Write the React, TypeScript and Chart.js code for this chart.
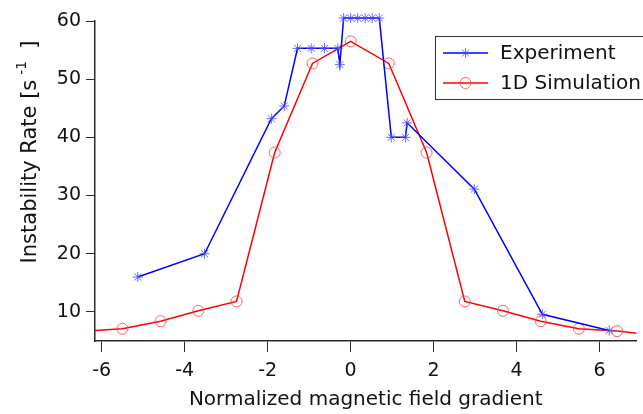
import React, { useEffect, useRef } from 'react';
import { Chart, registerables } from 'chart.js';

Chart.register(...registerables);

// ---- data ----
const seriesNames = ['Experiment', '1D Simulation'];
const expX = [-5.13, -3.52, -1.91, -1.6, -1.28, -0.95, -0.63, -0.31, -0.26, -0.17, 0.0, 0.17, 0.35, 0.52, 0.69, 0.98, 1.32, 1.36, 2.98, 4.62, 6.23];
const expY = [16.0, 20.0, 43.2, 45.4, 55.3, 55.3, 55.3, 55.3, 52.5, 60.5, 60.5, 60.5, 60.5, 60.5, 60.5, 40.0, 40.0, 42.5, 31.1, 9.6, 6.8];
const simX = [-7.33, -6.42, -5.5, -4.58, -3.67, -2.75, -1.83, -0.92, 0, 0.92, 1.83, 2.75, 3.67, 4.58, 5.5, 6.42, 7.33];
const simY = [6.0, 6.7, 7.1, 8.4, 10.2, 11.8, 37.4, 52.7, 56.5, 52.7, 37.4, 11.8, 10.2, 8.4, 7.1, 6.7, 6.0];
const xTicks = [-6, -4, -2, 0, 2, 4, 6];
const yTicks = [10, 20, 30, 40, 50, 60];
const xMin = -6.16;
const xMax = 6.888;
const yMin = 5;
const yMax = 60;
const xTitle = 'Normalized magnetic field gradient';
const yTitleMain = 'Instability Rate [s';
const yTitleSup = '-1';
const yTitleEnd = ']';

const FONT = '"DejaVu Sans", sans-serif';
const AXIS_COLOR = '#2a2a2a';
const TEXT_COLOR = '#111';

const styles = [
  { line: '#0000ff', marker: 'rgba(70,70,255,0.8)', pointStyle: 'star', radius: 5 },
  { line: '#ff0000', marker: 'rgba(255,70,70,0.85)', pointStyle: 'circle', radius: 5.5 },
];

function drawMarker(ctx: CanvasRenderingContext2D, style: string, x: number, y: number, r: number) {
  ctx.beginPath();
  if (style === 'circle') {
    ctx.arc(x, y, r, 0, Math.PI * 2);
  } else {
    for (let k = 0; k < 4; k++) {
      const a = (k * Math.PI) / 4;
      ctx.moveTo(x - r * Math.cos(a), y - r * Math.sin(a));
      ctx.lineTo(x + r * Math.cos(a), y + r * Math.sin(a));
    }
  }
  ctx.stroke();
}

const legendPlugin = {
  id: 'boxLegend',
  afterDraw(chart: any) {
    const ctx: CanvasRenderingContext2D = chart.ctx;
    ctx.save();
    ctx.fillStyle = '#fff';
    ctx.fillRect(435, 36, 260, 63);
    ctx.strokeStyle = '#333';
    ctx.lineWidth = 1;
    ctx.strokeRect(435.5, 36.5, 260, 63);
    const rowsY = [53, 83];
    chart.data.datasets.forEach((ds: any, i: number) => {
      const y = rowsY[i];
      const st = styles[i];
      ctx.strokeStyle = st.line;
      ctx.lineWidth = 1.5;
      ctx.beginPath();
      ctx.moveTo(443, y);
      ctx.lineTo(488, y);
      ctx.stroke();
      ctx.strokeStyle = st.marker;
      ctx.lineWidth = 1;
      drawMarker(ctx, st.pointStyle, 465.5, y, st.radius);
      ctx.fillStyle = TEXT_COLOR;
      ctx.font = `20px ${FONT}`;
      ctx.textAlign = 'left';
      ctx.textBaseline = 'middle';
      ctx.fillText(ds.label, 500, y + 1);
    });
    ctx.restore();
  },
};

const yTitlePlugin = {
  id: 'yTitle',
  afterDraw(chart: any) {
    const ctx: CanvasRenderingContext2D = chart.ctx;
    ctx.save();
    ctx.translate(31, 152);
    ctx.rotate(-Math.PI / 2);
    ctx.fillStyle = TEXT_COLOR;
    ctx.textAlign = 'left';
    ctx.textBaseline = 'middle';
    const mainFont = `21px ${FONT}`;
    const supFont = `14px ${FONT}`;
    const gap1 = 5;
    const gap2 = 12;
    ctx.font = mainFont;
    const w1 = ctx.measureText(yTitleMain).width;
    const w3 = ctx.measureText(yTitleEnd).width;
    ctx.font = supFont;
    const w2 = ctx.measureText(yTitleSup).width;
    let x = -(w1 + gap1 + w2 + gap2 + w3) / 2;
    ctx.font = mainFont;
    ctx.fillText(yTitleMain, x, 0);
    x += w1 + gap1;
    ctx.font = supFont;
    ctx.fillText(yTitleSup, x, -9);
    x += w2 + gap2;
    ctx.font = mainFont;
    ctx.fillText(yTitleEnd, x, 0);
    ctx.restore();
  },
};

export default function App() {
  const ref = useRef<HTMLCanvasElement | null>(null);

  useEffect(() => {
    if (!ref.current) return;
    const chart = new Chart(ref.current, {
      type: 'line',
      data: {
        datasets: [
          {
            label: seriesNames[0],
            data: expX.map((x, i) => ({ x, y: expY[i] })),
            borderColor: styles[0].line,
            borderWidth: 1.5,
            pointStyle: 'star',
            pointRadius: styles[0].radius,
            pointBorderColor: styles[0].marker,
            pointBackgroundColor: styles[0].marker,
            pointBorderWidth: 1,
            fill: false,
            tension: 0,
            clip: { left: 0, right: 0, top: 20, bottom: 0 },
          },
          {
            label: seriesNames[1],
            data: simX.map((x, i) => ({ x, y: simY[i] })),
            borderColor: styles[1].line,
            borderWidth: 1.5,
            pointStyle: 'circle',
            pointRadius: styles[1].radius,
            pointBorderColor: styles[1].marker,
            pointBackgroundColor: 'rgba(0,0,0,0)',
            pointBorderWidth: 1,
            fill: false,
            tension: 0,
            clip: { left: 0, right: 0, top: 20, bottom: 0 },
          },
        ],
      } as any,
      options: {
        animation: false,
        responsive: false,
        devicePixelRatio: 1,
        layout: { padding: { top: 21, left: 0, right: 0, bottom: 0 } },
        plugins: { legend: { display: false }, tooltip: { enabled: false } },
        scales: {
          x: {
            type: 'linear',
            min: xMin,
            max: xMax,
            afterBuildTicks: (s: any) => {
              s.ticks = xTicks.map((v) => ({ value: v }));
            },
            afterFit: (s: any) => {
              s.height = 73;
            },
            grid: { drawOnChartArea: false, drawTicks: true, tickLength: 11, color: AXIS_COLOR, lineWidth: 1 },
            border: { display: true, color: AXIS_COLOR, width: 1.5 },
            ticks: { color: TEXT_COLOR, font: { family: FONT, size: 19 }, padding: 8, maxRotation: 0 },
            title: { display: true, text: xTitle, color: TEXT_COLOR, font: { family: FONT, size: 20 }, padding: { top: 0, bottom: 2 } },
          },
          y: {
            type: 'linear',
            min: yMin,
            max: yMax,
            afterBuildTicks: (s: any) => {
              s.ticks = yTicks.map((v) => ({ value: v }));
            },
            afterFit: (s: any) => {
              s.width = 95;
            },
            grid: { drawOnChartArea: false, drawTicks: true, tickLength: 9, color: AXIS_COLOR, lineWidth: 1 },
            border: { display: true, color: AXIS_COLOR, width: 1.5 },
            ticks: { color: TEXT_COLOR, font: { family: FONT, size: 19 }, padding: 5 },
          },
        },
      } as any,
      plugins: [legendPlugin, yTitlePlugin],
    });
    return () => chart.destroy();
  }, []);

  return (
    <div style={{ position: 'absolute', left: 0, top: 0, width: 643, height: 414, background: '#fff' }}>
      <canvas ref={ref} width={643} height={414} style={{ display: 'block' }} />
    </div>
  );
}
